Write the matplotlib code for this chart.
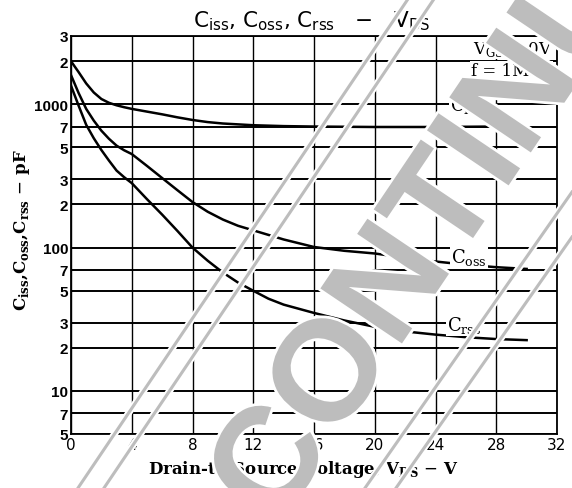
import matplotlib
matplotlib.use("Agg")
import matplotlib.pyplot as plt
import matplotlib.patheffects as pe
from matplotlib.lines import Line2D

# values (VDS in V, capacitance in pF)
vds_iss = [0, 0.5, 1, 1.5, 2, 2.5, 3, 3.5, 4, 5, 6, 7, 8, 9, 10, 12, 14, 16, 20, 24, 28, 30]
ciss = [2000, 1680, 1400, 1210, 1090, 1025, 985, 955, 930, 890, 852, 812, 778, 752, 735, 715, 705, 700, 695, 695, 700, 700]

vds_oss = [0, 0.5, 1, 1.5, 2, 2.5, 3, 3.5, 4, 5, 6, 7, 8, 9, 10, 11, 12, 14, 16, 18, 20, 22, 24, 26, 28, 30]
coss = [1600, 1200, 930, 770, 655, 575, 515, 478, 450, 372, 306, 252, 208, 178, 157, 142, 132, 114, 101, 95, 91, 85, 80, 76, 73, 71]

vds_rss = [0, 0.5, 1, 1.5, 2, 2.5, 3, 3.5, 4, 5, 6, 7, 8, 9, 10, 11, 12, 13, 14, 16, 18, 20, 22, 24, 26, 28, 30]
crss = [1350, 980, 720, 580, 480, 405, 345, 310, 282, 218, 170, 131, 100, 81, 67, 57, 50, 44, 40, 35, 31, 28, 26, 24.7, 23.7, 23, 22.6]

xticks = [0, 4, 8, 12, 16, 20, 24, 28, 32]
yticks = [5, 7, 10, 20, 30, 50, 70, 100, 200, 300, 500, 700, 1000, 2000, 3000]
ylabels = ['5', '7', '10', '2', '3', '5', '7', '100', '2', '3', '5', '7', '1000', '2', '3']

W, H = 572, 489
fig = plt.figure(figsize=(W/100, H/100), dpi=100)
ax = fig.add_axes([71/W, 1 - 435/H, (557 - 71)/W, (435 - 37)/H])

ax.set_yscale('log')
ax.set_xlim(0, 32)
ax.set_ylim(5, 3000)
ax.set_xticks(xticks)
ax.set_xticklabels([str(t) for t in xticks], fontsize=11, family='DejaVu Sans')
ax.set_yticks(yticks)
ax.set_yticklabels(ylabels, fontsize=11, family=['Liberation Sans Narrow', 'Liberation Sans'], fontweight='bold')
ax.minorticks_off()
ax.tick_params(length=0, pad=2)
ax.grid(True, axis='y', color='black', lw=1.4)
ax.grid(True, axis='x', color='black', lw=1.0)
for s in ax.spines.values():
    s.set_linewidth(1.3)

ax.plot(vds_iss, ciss, color='black', lw=1.8)
ax.plot(vds_oss, coss, color='black', lw=1.8)
ax.plot(vds_rss, crss, color='black', lw=1.8)

lab = dict(fontsize=13, family='DejaVu Serif', ha='center', va='center',
           bbox=dict(facecolor='white', edgecolor='none', pad=0.5))
ax.text(26.0, 1000, r'C$_{\mathregular{iss}}$', **lab)
ax.text(26.2, 87, r'C$_{\mathregular{oss}}$', **lab)
ax.text(25.9, 29, r'C$_{\mathregular{rss}}$', **lab)

ax.text(31.7, 2450, r'V$_{\mathregular{GS}}$ = 0V', fontsize=12, family='DejaVu Serif',
        ha='right', va='center', bbox=dict(facecolor='white', edgecolor='none', pad=0.5))
ax.text(31.7, 1720, 'f = 1MHz', fontsize=12, family='DejaVu Serif',
        ha='right', va='center', bbox=dict(facecolor='white', edgecolor='none', pad=0.5))

fig.text(312/W, 1 - 21/H,
         r'C$_{\mathregular{iss}}$, C$_{\mathregular{oss}}$, C$_{\mathregular{rss}}$   $-$   V$_{\mathregular{DS}}$',
         fontsize=15.5, family='DejaVu Sans', ha='center', va='center')
fig.text(22/W, 1 - 230/H,
         r'C$_{\mathregular{iss}}$,C$_{\mathregular{oss}}$,C$_{\mathregular{rss}}$ $-$ pF',
         fontsize=12, family='DejaVu Serif', fontweight='bold', rotation=90, ha='center', va='center')
fig.text(303/W, 1 - 470/H,
         r'Drain-to-Source Voltage, V$_{\mathregular{DS}}$ $-$ V',
         fontsize=12, family='DejaVu Serif', fontweight='bold', ha='center', va='center')

# watermark stamp: frame lines and text
halo = [pe.withStroke(linewidth=5, foreground='white')]
for (x0, y0), (x1, y1) in [((78, 489), (408, 0)), ((104, 489), (434, 0)),
                           ((365, 489), (572, 193)), ((396, 489), (572, 238))]:
    fig.add_artist(Line2D([x0/W, x1/W], [1 - y0/H, 1 - y1/H], transform=fig.transFigure,
                          color='#bdbdbd', lw=2.2, zorder=9, path_effects=halo))

fig.text(417/W, 1 - 256/H, 'DISCONTINUED', fontsize=103, family='Liberation Sans',
         fontweight='bold', color='#bdbdbd', rotation=56, rotation_mode='anchor',
         ha='center', va='center', zorder=10,
         path_effects=[pe.withStroke(linewidth=4, foreground='white')])

fig.savefig('out.png', dpi=100)
